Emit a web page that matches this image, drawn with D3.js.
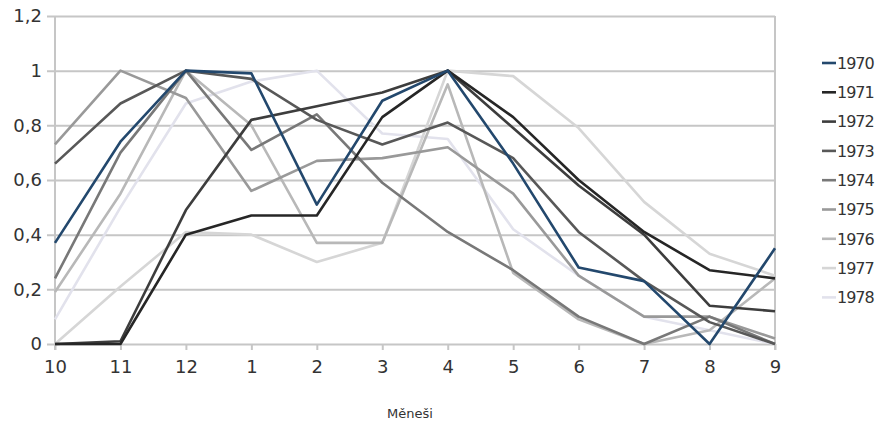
<!DOCTYPE html>
<html>
<head>
<meta charset="utf-8">
<script src="https://cdnjs.cloudflare.com/ajax/libs/d3/7.8.5/d3.min.js"></script>
<style>
  body { margin: 0; background: #fff; }
  svg { display: block; }
</style>
</head>
<body>
<div id="chart"></div>
<script>
const width = 891;
const height = 427;
const margin = { top: 16, right: 116, bottom: 83, left: 55 };

// Data
const months = ["10", "11", "12", "1", "2", "3", "4", "5", "6", "7", "8", "9"];
const years = ["1970", "1971", "1972", "1973", "1974", "1975", "1976", "1977", "1978"];
const yTicks = [0, 0.2, 0.4, 0.6, 0.8, 1, 1.2];

const v1970 = [0.37, 0.74, 1.0, 0.99, 0.51, 0.89, 1.0, 0.66, 0.28, 0.23, 0.0, 0.35];
const v1971 = [0.0, 0.0, 0.40, 0.47, 0.47, 0.83, 1.0, 0.83, 0.60, 0.41, 0.27, 0.24];
const v1972 = [0.0, 0.01, 0.49, 0.82, 0.87, 0.92, 1.0, 0.79, 0.58, 0.40, 0.14, 0.12];
const v1973 = [0.66, 0.88, 1.0, 0.97, 0.82, 0.73, 0.81, 0.68, 0.41, 0.23, 0.08, 0.0];
const v1974 = [0.24, 0.70, 1.0, 0.71, 0.84, 0.59, 0.41, 0.27, 0.10, 0.0, 0.10, 0.0];
const v1975 = [0.73, 1.0, 0.90, 0.56, 0.67, 0.68, 0.72, 0.55, 0.25, 0.10, 0.10, 0.02];
const v1976 = [0.19, 0.55, 1.0, 0.80, 0.37, 0.37, 0.95, 0.26, 0.09, 0.0, 0.05, 0.24];
const v1977 = [0.0, 0.21, 0.41, 0.40, 0.30, 0.37, 1.0, 0.98, 0.79, 0.52, 0.33, 0.25];
const v1978 = [0.09, 0.50, 0.88, 0.96, 1.0, 0.77, 0.75, 0.42, 0.25, 0.10, 0.05, 0.0];

const colors = ["#23486d", "#262626", "#3d3d3d", "#585858", "#787878", "#999999", "#b8b8b8", "#d6d6d6", "#e2e2ec"];

const series = years.map((y, i) => ({
    name: y,
    color: colors[i],
    values: [v1970, v1971, v1972, v1973, v1974, v1975, v1976, v1977, v1978][i]
}));

const x = d3.scalePoint()
    .domain(months)
    .range([margin.left, width - margin.right]);

const y = d3.scaleLinear()
    .domain([0, 1.2])
    .range([height - margin.bottom, margin.top]);

const svg = d3.select("#chart")
    .append("svg")
    .attr("width", width)
    .attr("height", height);

const gridColor = "#c6c6c6";
const textColor = "#333";
const fontFamily = "DejaVu Sans, sans-serif";

// horizontal gridlines with left axis
const yAxis = d3.axisLeft(y)
    .tickValues(yTicks)
    .tickSize(-(width - margin.left - margin.right))
    .tickPadding(13)
    .tickFormat(d => String(d).replace(".", ","));

const gy = svg.append("g")
    .attr("transform", `translate(${margin.left},0)`)
    .call(yAxis);
gy.select(".domain").remove();
gy.selectAll(".tick line")
    .attr("x1", -8)
    .attr("stroke", gridColor)
    .attr("stroke-width", 2);
gy.selectAll(".tick text")
    .attr("fill", textColor)
    .style("font-family", fontFamily)
    .style("font-size", "18px");

// left and right frame lines
svg.append("line")
    .attr("x1", margin.left).attr("x2", margin.left)
    .attr("y1", y(1.2)).attr("y2", y(0) + 6)
    .attr("stroke", gridColor).attr("stroke-width", 2);
svg.append("line")
    .attr("x1", width - margin.right).attr("x2", width - margin.right)
    .attr("y1", y(1.2)).attr("y2", y(0) + 6)
    .attr("stroke", gridColor).attr("stroke-width", 2);

// bottom axis
const xAxis = d3.axisBottom(x)
    .tickSize(6)
    .tickPadding(10);

const gx = svg.append("g")
    .attr("transform", `translate(0,${y(0)})`)
    .call(xAxis);
gx.select(".domain").remove();
gx.selectAll(".tick line")
    .attr("stroke", gridColor)
    .attr("stroke-width", 2);
gx.selectAll(".tick text")
    .attr("fill", textColor)
    .style("font-family", fontFamily)
    .style("font-size", "18px");

// lines, lightest first so the dark ones sit on top
const line = d3.line()
    .x((d, i) => x(months[i]))
    .y(d => y(d));

svg.append("g")
    .selectAll("path")
    .data(series.slice().reverse())
    .join("path")
    .attr("d", d => line(d.values))
    .attr("fill", "none")
    .attr("stroke", d => d.color)
    .attr("stroke-width", 2.6)
    .attr("stroke-linejoin", "round");

// axis title
svg.append("text")
    .attr("x", 410)
    .attr("y", 418)
    .attr("text-anchor", "middle")
    .attr("fill", textColor)
    .style("font-family", fontFamily)
    .style("font-size", "13px")
    .text("Měneši");

// legend
const legend = svg.append("g")
    .selectAll("g")
    .data(series)
    .join("g")
    .attr("transform", (d, i) => `translate(822,${63 + i * 29.3})`);

legend.append("line")
    .attr("x1", 0).attr("x2", 14)
    .attr("stroke", d => d.color)
    .attr("stroke-width", 2.6);

legend.append("text")
    .attr("x", 15)
    .attr("dy", "0.36em")
    .attr("fill", textColor)
    .style("font-family", fontFamily)
    .style("font-size", "16px")
    .style("letter-spacing", "-1px")
    .text(d => d.name);
</script>
</body>
</html>
